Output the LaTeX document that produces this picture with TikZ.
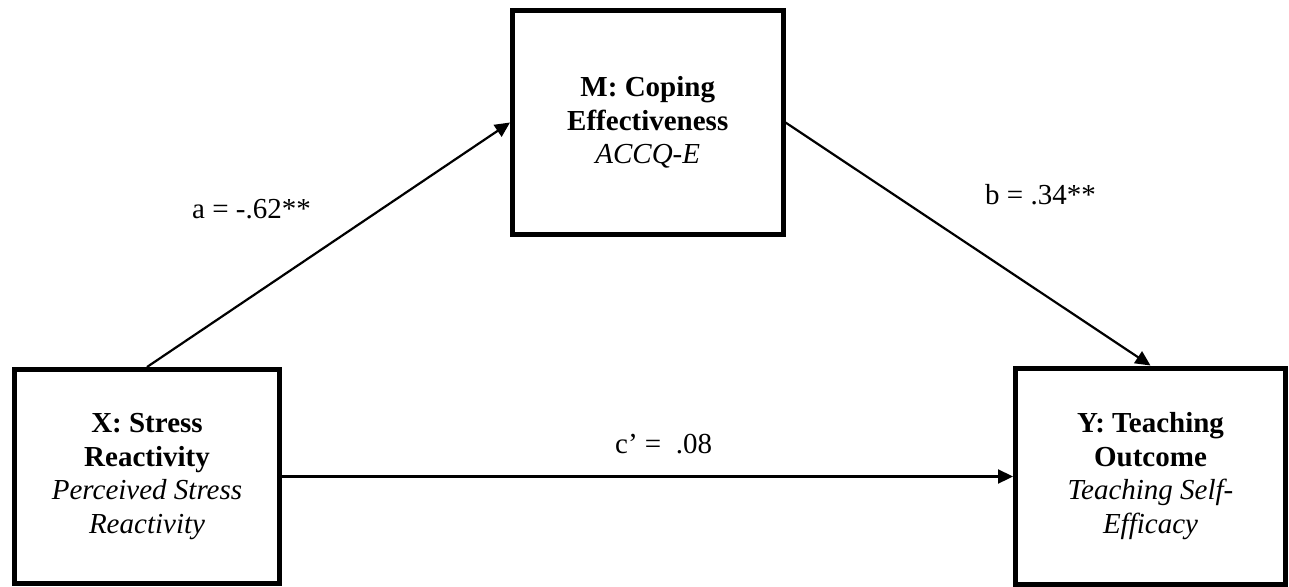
\documentclass[tikz,border=0pt]{standalone}
\usepackage{fontspec}
\setmainfont{Liberation Serif}
\usetikzlibrary{arrows.meta}

\begin{document}
\begin{tikzpicture}[x=1pt,y=-1pt,
  varbox/.style={draw=black, line width=5pt, align=center, inner sep=0pt,
    font=\fontsize{29}{33.4}\selectfont},
  conn/.style={line width=2.2pt, -{Triangle[length=15pt,width=14pt]}},
  coef/.style={inner sep=0pt, anchor=base west, font=\fontsize{29}{33.4}\selectfont}]

  \useasboundingbox (0,0) rectangle (1289,586);

  % the three variables of the mediation model
  \node[varbox, minimum width=265pt, minimum height=214pt] (X) at (147,476.5)
    {\textbf{X: Stress}\\\textbf{Reactivity}\\\textit{Perceived Stress}\\\textit{Reactivity}};
  \node[varbox, minimum width=270.5pt, minimum height=224pt] (M) at (647.75,122.5)
    {\textbf{M: Coping}\\\textbf{Effectiveness}\\\textit{ACCQ-E}};
  \node[varbox, minimum width=270pt, minimum height=216pt] (Y) at (1150.5,476)
    {\textbf{Y: Teaching}\\\textbf{Outcome}\\\textit{Teaching Self-}\\\textit{Efficacy}};

  % paths
  \draw[conn] (X.north) -- (M.west);
  \draw[conn] (M.east) -- (Y.north);
  \draw[conn] (X.east) -- (X.east -| Y.west);

  % path coefficients
  \node[coef] (a) at (192,218) {a = -.62**};
  \node[coef] (b) at (985,204) {b = .34**};
  \node[coef] (c) at (615,453) {c’ =\ \ .08};
\end{tikzpicture}
\end{document}
